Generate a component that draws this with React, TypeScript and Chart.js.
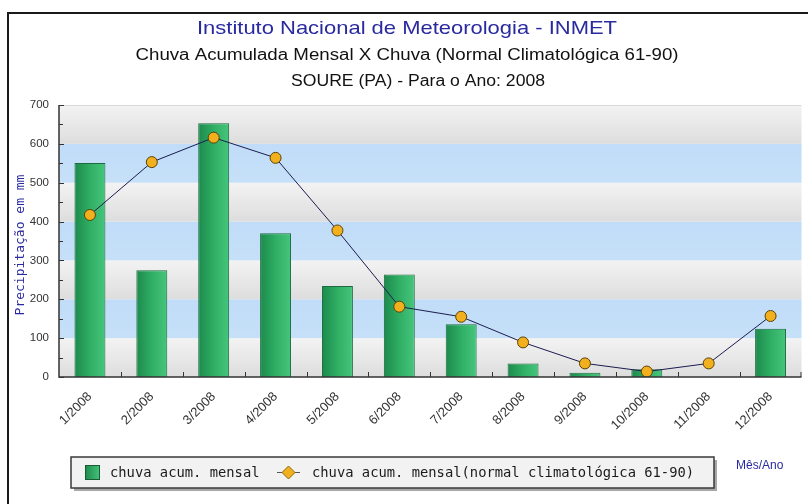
import React, { useEffect, useRef } from "react";
import { Chart, registerables } from "chart.js";

Chart.register(...registerables);

const categories = ["1/2008", "2/2008", "3/2008", "4/2008", "5/2008", "6/2008", "7/2008", "8/2008", "9/2008", "10/2008", "11/2008", "12/2008"];
const monthlyRain = [551, 275, 653, 370, 234, 264, 136, 35, 11, 20, 0, 124];
const normalRain = [417, 553, 616, 564, 377, 181, 155, 89, 35, 14, 35, 157];
const yTicks = [0, 100, 200, 300, 400, 500, 600, 700];

const titleMain = "Instituto Nacional de Meteorologia - INMET";
const titleSub = "Chuva Acumulada Mensal X Chuva (Normal Climatológica 61-90)";
const titleStation = "SOURE (PA) - Para o Ano: 2008";
const yTitle = "Precipitação em mm";
const xTitle = "Mês/Ano";
const legendBar = "chuva acum. mensal";
const legendLine = "chuva acum. mensal(normal climatológica 61-90)";

const SANS = "'Liberation Sans', Arial, sans-serif";
const MONO = "'DejaVu Sans Mono', monospace";

function fitText(ctx: any, text: string, cx: number, cy: number, width: number) {
  const m = ctx.measureText(text).width;
  ctx.save();
  ctx.translate(cx, cy);
  ctx.scale(width / m, 1);
  ctx.textAlign = "center";
  ctx.fillText(text, 0, 0);
  ctx.restore();
}

const decorPlugin = {
  id: "decor",
  beforeDraw(chart: any) {
    const { ctx, chartArea: a, scales } = chart;
    const y = scales.y;
    ctx.save();
    ctx.fillStyle = "#ffffff";
    ctx.fillRect(0, 0, chart.width, chart.height);
    for (let i = 0; i < yTicks.length - 1; i++) {
      const top = y.getPixelForValue(yTicks[i + 1]);
      const bot = y.getPixelForValue(yTicks[i]);
      const g = ctx.createLinearGradient(0, top, 0, bot);
      if (i % 2 === 0) {
        g.addColorStop(0, "#f3f3f3");
        g.addColorStop(1, "#dddddd");
      } else {
        g.addColorStop(0, "#c0dcf8");
        g.addColorStop(1, "#c6e0f8");
      }
      ctx.fillStyle = g;
      ctx.fillRect(a.left, top, a.right - a.left, bot - top);
    }
    ctx.strokeStyle = "#d8d8d8";
    ctx.lineWidth = 1;
    ctx.beginPath();
    ctx.moveTo(a.left, a.top + 0.5);
    ctx.lineTo(a.right, a.top + 0.5);
    ctx.stroke();
    ctx.restore();
  },
  afterDatasetsDraw(chart: any) {
    const { ctx, chartArea: a, scales } = chart;
    const y = scales.y;
    const x = scales.x;
    ctx.save();
    ctx.strokeStyle = "#333333";
    ctx.lineWidth = 1.5;
    ctx.beginPath();
    ctx.moveTo(a.left, a.top);
    ctx.lineTo(a.left, a.bottom);
    ctx.lineTo(a.right, a.bottom);
    ctx.stroke();
    ctx.lineWidth = 1;
    ctx.beginPath();
    for (let v = 0; v <= 700; v += 50) {
      const py = Math.round(y.getPixelForValue(v)) + 0.5;
      ctx.moveTo(a.left, py);
      ctx.lineTo(a.left + (v % 100 === 0 ? 5 : 4), py);
    }
    for (let i = 1; i <= categories.length; i++) {
      const px = Math.round((x.getPixelForValue(i - 1) + x.getPixelForValue(i)) / 2) + 0.5;
      const pxx = i === categories.length ? a.right - 0.5 : px;
      ctx.moveTo(pxx, a.bottom);
      ctx.lineTo(pxx, a.bottom - 5);
    }
    ctx.stroke();
    ctx.restore();
  },
  afterDraw(chart: any) {
    const { ctx } = chart;
    ctx.save();
    // frame
    ctx.strokeStyle = "#1a1a1a";
    ctx.lineWidth = 2;
    ctx.beginPath();
    ctx.moveTo(8, 504);
    ctx.lineTo(8, 13);
    ctx.lineTo(808, 13);
    ctx.stroke();
    // titles
    ctx.textBaseline = "middle";
    ctx.fillStyle = "#2a2aa0";
    ctx.font = `19px ${SANS}`;
    fitText(ctx, titleMain, 407, 29, 420);
    ctx.fillStyle = "#111111";
    ctx.font = `16px ${SANS}`;
    fitText(ctx, titleSub, 407, 56, 543);
    fitText(ctx, titleStation, 418, 82, 254);
    // y title
    ctx.save();
    ctx.translate(21, 245);
    ctx.rotate(-Math.PI / 2);
    ctx.textAlign = "center";
    ctx.fillStyle = "#2a2aa0";
    ctx.font = `13px ${MONO}`;
    ctx.fillText(yTitle, 0, 0);
    ctx.restore();
    // x title
    ctx.fillStyle = "#2a2aa0";
    ctx.font = `12px ${SANS}`;
    ctx.textAlign = "left";
    ctx.fillText(xTitle, 736, 466);
    // legend
    const lx = 71, ly = 457, lw = 643, lh = 31;
    ctx.fillStyle = "#a8a8a8";
    ctx.fillRect(lx + 3, ly + 3, lw, lh);
    ctx.fillStyle = "#f2f2f2";
    ctx.fillRect(lx, ly, lw, lh);
    ctx.strokeStyle = "#3a3a3a";
    ctx.lineWidth = 1.5;
    ctx.strokeRect(lx, ly, lw, lh);
    const sg = ctx.createLinearGradient(85, 0, 100, 0);
    sg.addColorStop(0, "#1e8a4e");
    sg.addColorStop(1, "#44c37a");
    ctx.fillStyle = sg;
    ctx.fillRect(85, 465, 15, 15);
    ctx.strokeStyle = "#1a5a34";
    ctx.lineWidth = 1;
    ctx.strokeRect(85.5, 465.5, 14, 14);
    ctx.fillStyle = "#1a1a1a";
    ctx.font = `13.8px ${MONO}`;
    ctx.textAlign = "left";
    ctx.fillText(legendBar, 110, 473);
    ctx.strokeStyle = "#555555";
    ctx.beginPath();
    ctx.moveTo(277, 472.5);
    ctx.lineTo(300, 472.5);
    ctx.stroke();
    ctx.fillStyle = "#f2b01e";
    ctx.strokeStyle = "#8a6a10";
    ctx.beginPath();
    ctx.moveTo(288.5, 466);
    ctx.lineTo(295, 472.5);
    ctx.lineTo(288.5, 479);
    ctx.lineTo(282, 472.5);
    ctx.closePath();
    ctx.fill();
    ctx.stroke();
    ctx.fillStyle = "#1a1a1a";
    ctx.fillText(legendLine, 312, 473);
    ctx.restore();
  },
};

function barFill(c: any) {
  const chart = c.chart;
  if (!chart.chartArea || c.dataIndex === undefined) return "#2fa863";
  const xs = chart.scales.x;
  const cx = xs.getPixelForValue(c.dataIndex);
  const half = 15.5;
  const g = chart.ctx.createLinearGradient(cx - half, 0, cx + half, 0);
  g.addColorStop(0, "#1c8a4c");
  g.addColorStop(0.5, "#2fae64");
  g.addColorStop(1, "#46c67c");
  return g;
}

export default function App() {
  const ref = useRef<HTMLCanvasElement | null>(null);
  useEffect(() => {
    if (!ref.current) return;
    const chart = new Chart(ref.current, {
      type: "bar",
      data: {
        labels: categories,
        datasets: [
          {
            type: "line",
            label: legendLine,
            data: normalRain,
            borderColor: "#1c1c50",
            borderWidth: 1,
            pointRadius: 5.5,
            pointBackgroundColor: "#f2b01e",
            pointBorderColor: "#5a4208",
            pointBorderWidth: 1,
            tension: 0,
            order: 0,
          } as any,
          {
            type: "bar",
            label: legendBar,
            data: monthlyRain,
            backgroundColor: barFill,
            borderColor: "#1d6b3e",
            borderWidth: 1,
            barPercentage: 0.5,
            categoryPercentage: 1,
            order: 1,
          },
        ],
      },
      options: {
        responsive: false,
        animation: false,
        layout: { padding: { left: 0, top: 105, right: 3, bottom: 67 } },
        plugins: { legend: { display: false }, title: { display: false }, tooltip: { enabled: false } },
        scales: {
          x: {
            offset: true,
            grid: { display: false, drawTicks: false },
            border: { display: false },
            ticks: {
              minRotation: 45,
              maxRotation: 45,
              padding: 12,
              color: "#333333",
              font: { family: SANS, size: 13 },
            },
            afterFit: (s: any) => {
              s.height = 60;
            },
          },
          y: {
            min: 0,
            max: 700,
            grid: { display: false, drawTicks: false },
            border: { display: false },
            afterBuildTicks: (s: any) => {
              s.ticks = yTicks.map((v) => ({ value: v }));
            },
            ticks: {
              padding: 10,
              color: "#333333",
              font: { family: SANS, size: 11.5 },
            },
            afterFit: (s: any) => {
              s.width = 59;
            },
          },
        },
      },
      plugins: [decorPlugin],
    });
    return () => chart.destroy();
  }, []);
  return (
    <div style={{ position: "absolute", left: 0, top: 0, width: 808, height: 504 }}>
      <canvas ref={ref} width={808} height={504} style={{ display: "block" }} />
    </div>
  );
}
